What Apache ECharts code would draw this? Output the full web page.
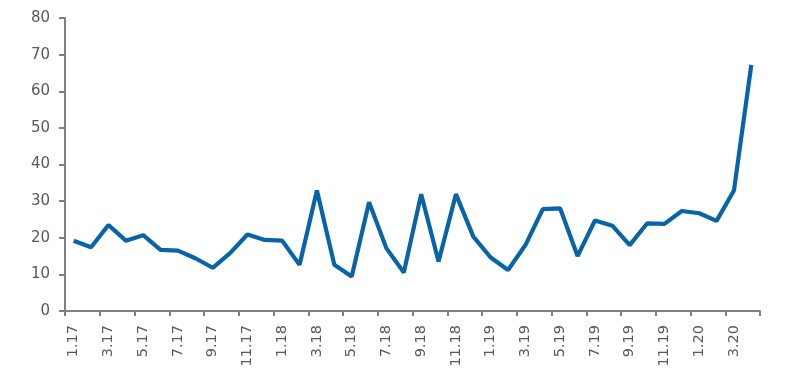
<!DOCTYPE html>
<html><head><meta charset="utf-8">
<script src="https://cdn.jsdelivr.net/npm/echarts@6/dist/echarts.min.js"></script>
<style>html,body{margin:0;padding:0;background:#fff}#c{width:797px;height:383px}</style>
</head><body><div id="c"></div>
<script>
const categories = ['1.17','2.17','3.17','4.17','5.17','6.17','7.17','8.17','9.17','10.17','11.17','12.17',
 '1.18','2.18','3.18','4.18','5.18','6.18','7.18','8.18','9.18','10.18','11.18','12.18',
 '1.19','2.19','3.19','4.19','5.19','6.19','7.19','8.19','9.19','10.19','11.19','12.19',
 '1.20','2.20','3.20','4.20'];
const values = [19.2,17.4,23.5,19.2,20.7,16.7,16.5,14.4,11.8,15.8,20.9,19.4,
 19.2,12.6,32.9,12.6,9.4,29.7,17.1,10.5,31.9,13.5,31.9,20.3,
 14.6,11.2,18.0,27.8,28.0,15.0,24.7,23.3,18.0,23.9,23.8,27.3,
 26.7,24.6,32.9,67.2];
const yTicks = {min:0, max:80, interval:10};
const chart = echarts.init(document.getElementById('c'), null, {renderer:'canvas'});
const axisCol = '#808080', txt = '#595959', font = 'DejaVu Sans';
chart.setOption({
  animation:false,
  grid:{left:65,right:37,top:18,bottom:72,containLabel:false},
  xAxis:{type:'category',data:categories,boundaryGap:true,
    axisLine:{lineStyle:{color:axisCol,width:2}},
    axisTick:{show:true,interval:1,length:5,lineStyle:{color:axisCol,width:2}},
    axisLabel:{interval:1,rotate:90,color:txt,fontFamily:font,fontSize:14.5,margin:14}},
  yAxis:{type:'value',min:yTicks.min,max:yTicks.max,interval:yTicks.interval,
    splitLine:{show:false},
    axisLine:{show:true,lineStyle:{color:axisCol,width:2}},
    axisTick:{show:true,length:6,lineStyle:{color:axisCol,width:2}},
    axisLabel:{color:txt,fontFamily:font,fontSize:15,margin:15}},
  series:[{type:'line',data:values,symbol:'none',lineStyle:{color:'#0864A6',width:4.2},itemStyle:{color:'#0864A6'}}]
});
</script></body></html>
